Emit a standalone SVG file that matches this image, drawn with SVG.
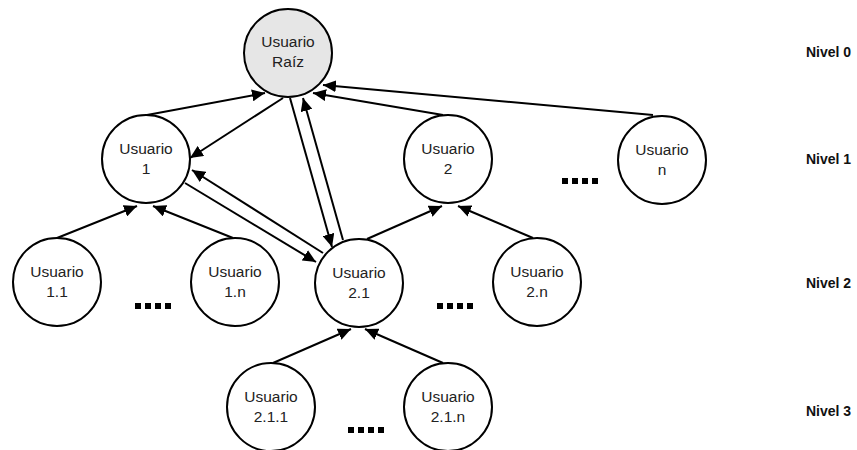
<svg xmlns="http://www.w3.org/2000/svg" width="857" height="450" viewBox="0 0 857 450">
<style>
.n circle{fill:#fff;stroke:#000;stroke-width:2}
.n text{font-family:"Liberation Sans",Arial,sans-serif;font-size:15.5px;fill:#222;text-anchor:middle}
.lvl{font-family:"Liberation Sans",Arial,sans-serif;font-size:14px;font-weight:bold;fill:#111}
.c line{stroke:#000;stroke-width:2;marker-end:url(#ah)}
.dots rect{fill:#000}
</style>
<defs>
<marker id="ah" markerUnits="userSpaceOnUse" markerWidth="14" markerHeight="12" refX="13" refY="6" orient="auto">
<path d="M0,0 L13,6 L0,12 z" fill="#000"/>
</marker>
</defs>
<rect width="857" height="450" fill="#fff"/>
<g class="c" id="connectors">
<line x1="147" y1="115" x2="265" y2="93"/>
<line x1="283" y1="98" x2="190" y2="158"/>
<line x1="185" y1="183" x2="316" y2="262"/>
<line x1="323" y1="253" x2="192" y2="170"/>
<line x1="290" y1="98" x2="332" y2="247"/>
<line x1="343" y1="240" x2="303" y2="98"/>
<line x1="443" y1="115" x2="313" y2="93"/>
<line x1="653" y1="115" x2="323" y2="85"/>
<line x1="57" y1="238" x2="137" y2="206"/>
<line x1="233" y1="238" x2="153" y2="206"/>
<line x1="367" y1="239" x2="442" y2="206"/>
<line x1="533" y1="238" x2="458" y2="206"/>
<line x1="273" y1="363" x2="351" y2="329"/>
<line x1="443" y1="363" x2="365" y2="329"/>
</g>
<g class="n" id="root"><circle cx="288" cy="53" r="44" style="fill:#e6e6e6"/><text x="288" y="47">Usuario</text><text x="288" y="67">Raíz</text></g>
<g class="n" id="u1"><circle cx="146" cy="159" r="44"/><text x="146" y="154">Usuario</text><text x="146" y="174">1</text></g>
<g class="n" id="u2"><circle cx="448" cy="159" r="44"/><text x="448" y="154">Usuario</text><text x="448" y="174">2</text></g>
<g class="n" id="un"><circle cx="662" cy="160" r="44"/><text x="662" y="155">Usuario</text><text x="662" y="175">n</text></g>
<g class="n" id="u11"><circle cx="57" cy="282" r="44"/><text x="57" y="277">Usuario</text><text x="57" y="297">1.1</text></g>
<g class="n" id="u1n"><circle cx="235" cy="282" r="44"/><text x="235" y="277">Usuario</text><text x="235" y="297">1.n</text></g>
<g class="n" id="u21"><circle cx="359" cy="283" r="44"/><text x="359" y="278">Usuario</text><text x="359" y="298">2.1</text></g>
<g class="n" id="u2n"><circle cx="537" cy="282" r="44"/><text x="537" y="277">Usuario</text><text x="537" y="297">2.n</text></g>
<g class="n" id="u211"><circle cx="271" cy="407" r="44"/><text x="271" y="402">Usuario</text><text x="271" y="422">2.1.1</text></g>
<g class="n" id="u21n"><circle cx="448" cy="407" r="44"/><text x="448" y="402">Usuario</text><text x="448" y="422">2.1.n</text></g>
<g class="dots" id="dots">
<rect x="562" y="178" width="6" height="6"/><rect x="572" y="178" width="6" height="6"/><rect x="582" y="178" width="6" height="6"/><rect x="592" y="178" width="6" height="6"/>
<rect x="135" y="303" width="6" height="6"/><rect x="145" y="303" width="6" height="6"/><rect x="155" y="303" width="6" height="6"/><rect x="165" y="303" width="6" height="6"/>
<rect x="437" y="303" width="6" height="6"/><rect x="447" y="303" width="6" height="6"/><rect x="457" y="303" width="6" height="6"/><rect x="467" y="303" width="6" height="6"/>
<rect x="348" y="427" width="6" height="6"/><rect x="358" y="427" width="6" height="6"/><rect x="368" y="427" width="6" height="6"/><rect x="378" y="427" width="6" height="6"/>
</g>
<g id="levels">
<text class="lvl" x="806" y="57">Nivel 0</text>
<text class="lvl" x="806" y="164">Nivel 1</text>
<text class="lvl" x="806" y="288">Nivel 2</text>
<text class="lvl" x="806" y="416">Nivel 3</text>
</g>
</svg>
